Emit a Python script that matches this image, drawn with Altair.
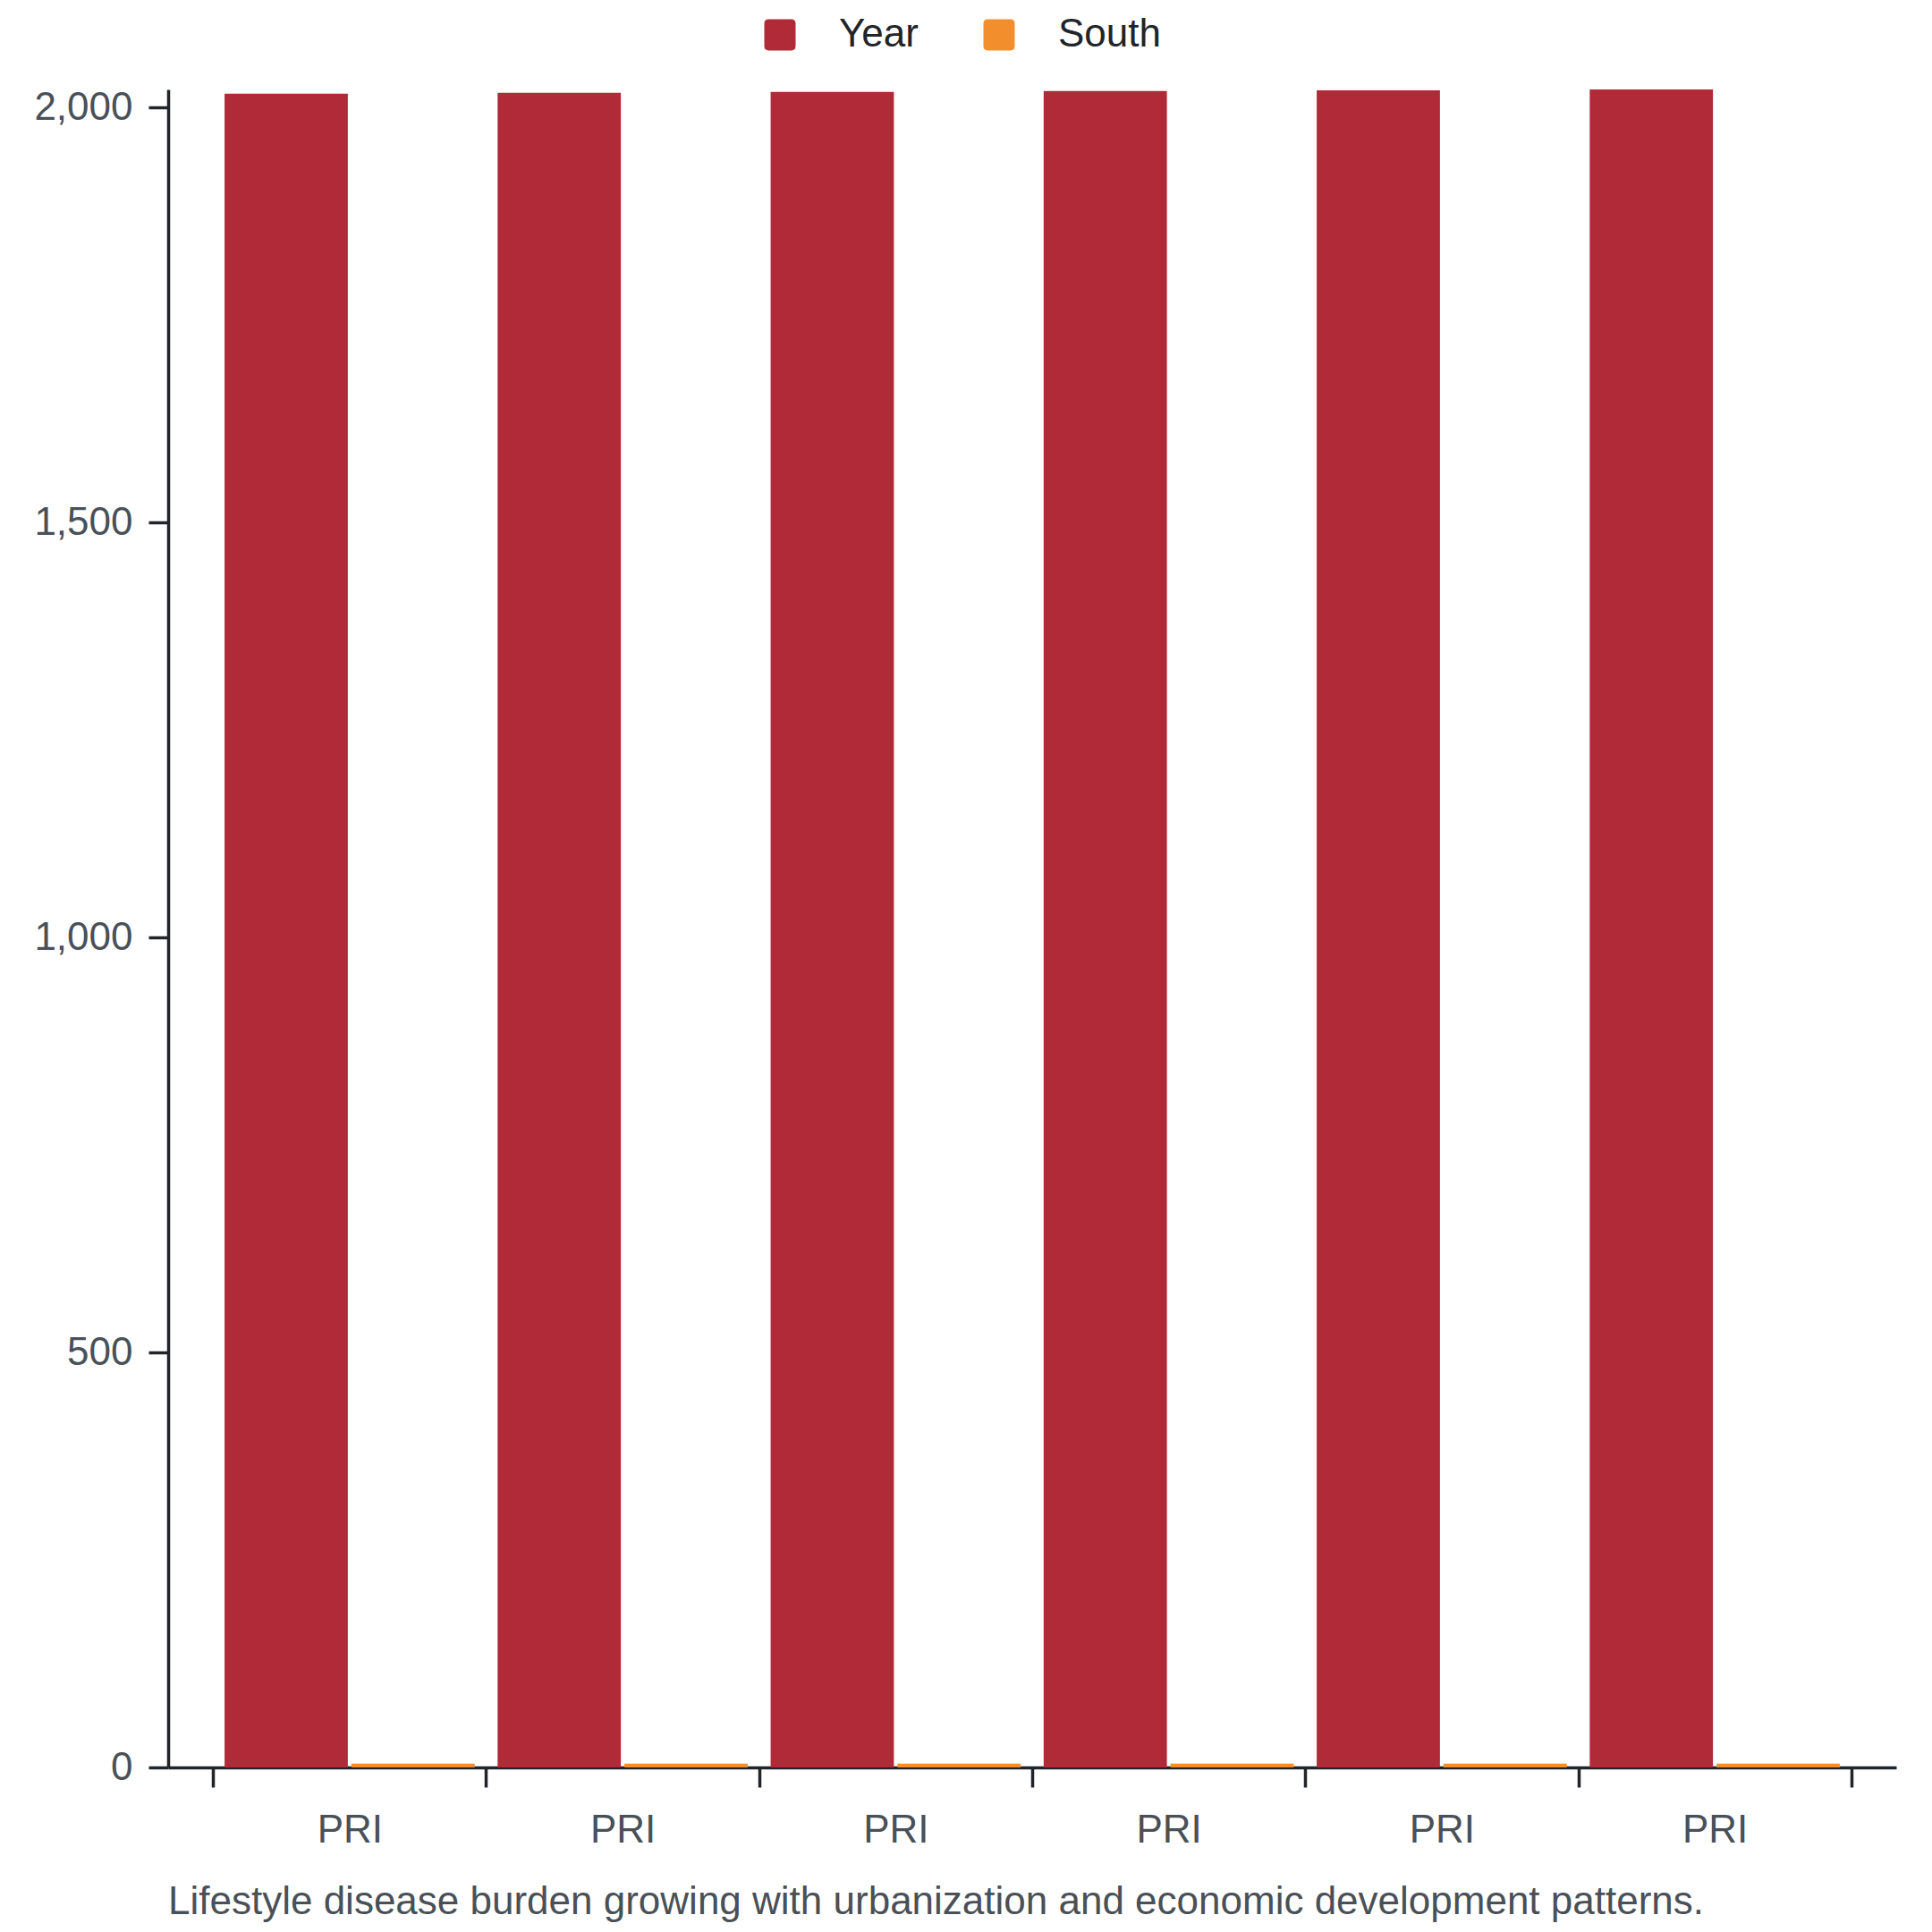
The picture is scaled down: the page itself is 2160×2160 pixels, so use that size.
import altair as alt
import pandas as pd

# ---- data ----
countries = ["PRI", "PRI", "PRI", "PRI", "PRI", "PRI"]
years = [2017, 2018, 2019, 2020, 2021, 2022]
south = [4.5, 4.5, 4.5, 4.5, 4.5, 4.5]
series = ["Year", "South"]
colors = ["#b02a37", "#f28e2b"]
y_ticks = [0, 500, 1000, 1500, 2000]
caption = "Lifestyle disease burden growing with urbanization and economic development patterns."

keys = [f"{c} {y}" for c, y in zip(countries, years)]
rows = []
for k, yr, s in zip(keys, years, south):
    rows.append({"key": k, "series": "Year", "value": yr})
    rows.append({"key": k, "series": "South", "value": s})
df = pd.DataFrame(rows)

FONT = "Liberation Sans"
rounded = ("M-0.72,-1H0.72Q1,-1,1,-0.72V0.72Q1,1,0.72,1"
           "H-0.72Q-1,1,-1,0.72V-0.72Q-1,-1,-0.72,-1Z")

chart = alt.Chart(df).mark_bar().encode(
    x=alt.X("key:N", sort=keys, title=None,
            scale=alt.Scale(paddingInner=0, paddingOuter=0.1646),
            axis=alt.Axis(tickBand="extent", labelAngle=0,
                          labelExpr="split(datum.label, ' ')[0]",
                          labelPadding=26)),
    xOffset=alt.XOffset("series:N", sort=series,
                        scale=alt.Scale(domain=series, paddingInner=0.0282,
                                        paddingOuter=0.0905)),
    y=alt.Y("value:Q", title=None,
            scale=alt.Scale(nice=False, zero=True),
            axis=alt.Axis(values=y_ticks, format=",d", labelPadding=18)),
    color=alt.Color("series:N", sort=series,
                    scale=alt.Scale(domain=series, range=colors),
                    legend=alt.Legend(orient="none", legendX=662, legendY=-83,
                                      direction="horizontal", title=None,
                                      symbolType=rounded, symbolSize=1225,
                                      symbolStrokeWidth=0, symbolOpacity=1,
                                      labelFontSize=44, labelFont=FONT,
                                      labelColor="#212529", labelOffset=44,
                                      columnPadding=68, padding=0)),
).properties(
    width=1932,
    height=1876,
    title=alt.TitleParams(caption, orient="bottom", anchor="start",
                          frame="group",
                          fontSize=44, font=FONT, fontWeight="normal",
                          color="#495057", offset=37),
    autosize=alt.AutoSizeParams(type="none"),
    padding={"left": 180, "top": 92, "right": 32, "bottom": 176},
).configure(font=FONT).configure_view(stroke=None).configure_axis(
    grid=False,
    domainColor="#212529", domainWidth=3.5,
    tickColor="#212529", tickWidth=3.5, tickSize=22,
    labelFont=FONT, labelFontSize=44, labelColor="#495057",
)

chart.save("out.html", embed_options={"renderer": "svg", "actions": False})
